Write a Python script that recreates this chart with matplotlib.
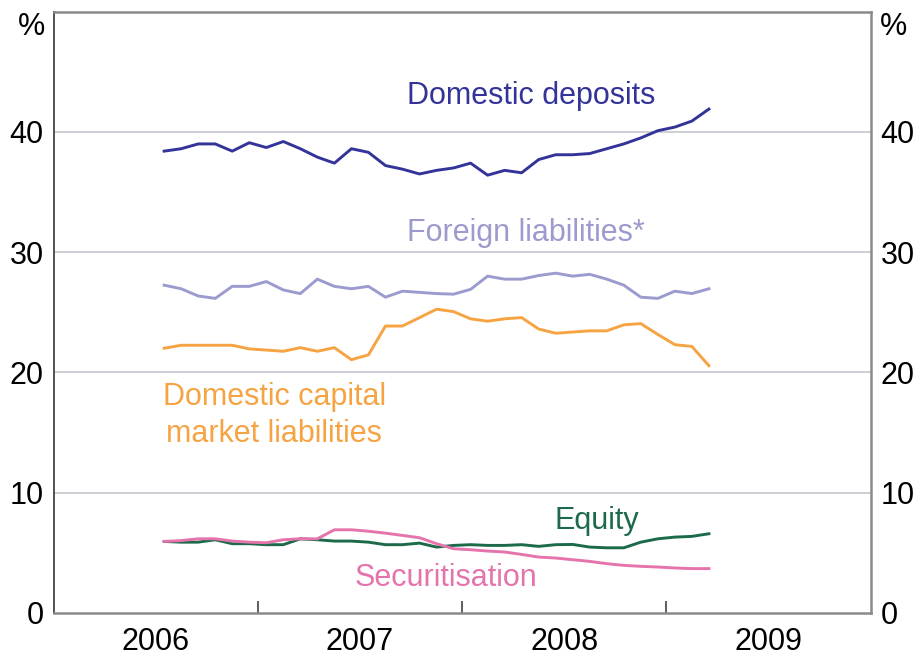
import numpy as np
import pandas as pd
import matplotlib
matplotlib.use('Agg')
import matplotlib.pyplot as plt

plt.rcParams['font.family'] = ['Liberation Sans', 'DejaVu Sans']

# monthly observations, Jul 2006 - Mar 2009
months = pd.period_range('2006-07', '2009-03', freq='M')

domestic_deposits = [38.4, 38.6, 39.0, 39.0, 38.4, 39.1, 38.7, 39.2, 38.6, 37.9, 37.4,
                     38.6, 38.3, 37.2, 36.9, 36.5, 36.8, 37.0, 37.4, 36.4, 36.8, 36.6,
                     37.7, 38.1, 38.1, 38.2, 38.6, 39.0, 39.5, 40.1, 40.4, 40.9, 41.9]
foreign_liabilities = [27.25, 26.95, 26.35, 26.15, 27.15, 27.15, 27.55, 26.85, 26.55, 27.75, 27.15,
                       26.95, 27.15, 26.25, 26.75, 26.65, 26.55, 26.5, 26.9, 28.0, 27.75, 27.75,
                       28.05, 28.25, 28.0, 28.15, 27.75, 27.25, 26.25, 26.15, 26.75, 26.55, 26.95]
capital_market = [22.0, 22.25, 22.25, 22.25, 22.25, 21.95, 21.85, 21.75, 22.05, 21.75, 22.05,
                  21.05, 21.45, 23.85, 23.85, 24.55, 25.25, 25.05, 24.45, 24.25, 24.45, 24.55,
                  23.6, 23.25, 23.35, 23.45, 23.45, 23.95, 24.05, 23.15, 22.3, 22.15, 20.55]
equity = [5.93, 5.87, 5.87, 6.07, 5.74, 5.74, 5.66, 5.66, 6.15, 6.07, 5.96,
          5.96, 5.87, 5.66, 5.66, 5.79, 5.46, 5.6, 5.66, 5.6, 5.6, 5.66,
          5.52, 5.66, 5.68, 5.46, 5.4, 5.4, 5.87, 6.15, 6.29, 6.35, 6.57]
securitisation = [5.93, 6.0, 6.15, 6.15, 5.96, 5.87, 5.82, 6.07, 6.15, 6.15, 6.9,
                  6.9, 6.78, 6.62, 6.43, 6.24, 5.74, 5.32, 5.24, 5.13, 5.05, 4.85,
                  4.63, 4.55, 4.41, 4.27, 4.08, 3.94, 3.86, 3.8, 3.72, 3.67, 3.67]

years = [2006, 2007, 2008, 2009]
yticks = [0, 10, 20, 30, 40]

# decimal year, mid-month
x = np.array([p.year + (p.month - 0.5) / 12 for p in months])

series = [
    (domestic_deposits, '#333399', 'Domestic deposits', 2008.34, 43.0),
    (foreign_liabilities, '#9b9bcf', 'Foreign liabilities*', 2008.31, 31.6),
    (capital_market, '#f6a443', 'Domestic capital\nmarket liabilities', 2007.08, 16.4),
    (equity, '#1c6a4a', 'Equity', 2008.66, 7.6),
    (securitisation, '#e574ad', 'Securitisation', 2007.92, 2.9),
]

fig = plt.figure(figsize=(9.13, 6.57), dpi=100)
ax = fig.add_axes([0.0586, 0.0674, 0.895, 0.9148])

for vals, col, label, lx, ly in series:
    ax.plot(x, vals, color=col, lw=2.1, solid_joinstyle='round')
    ax.text(lx, ly, label, color=col, fontsize=22, ha='center', va='center',
            linespacing=1.3)

ax.set_xlim(2006, 2010)
ax.set_ylim(0, 50)

for v in yticks[1:]:
    ax.axhline(v, color='#c3c7cc', lw=1.2, zorder=0)

ax.set_yticks(yticks)
ax.tick_params(axis='y', length=0, labelsize=22, pad=7, labelright=True)

ax.set_xticks(years[1:])
ax.set_xticklabels([])
ax.set_xticks([y + 0.5 for y in years], minor=True)
ax.set_xticklabels([str(y) for y in years], minor=True)
ax.tick_params(axis='x', which='major', direction='in', length=9, width=1.1, color='#333333')
ax.tick_params(axis='x', which='minor', length=0, labelsize=22, pad=10)

ax.spines['left'].set_color('#444444')
ax.spines['left'].set_linewidth(1.3)
for s in ['top', 'right', 'bottom']:
    ax.spines[s].set_color('#8a8a8a')
    ax.spines[s].set_linewidth(1.8)

ax.annotate('%', xy=(0, 1), xycoords='axes fraction', xytext=(-6, 0),
            textcoords='offset points', ha='right', va='top', fontsize=22)
ax.annotate('%', xy=(1, 1), xycoords='axes fraction', xytext=(7, 0),
            textcoords='offset points', ha='left', va='top', fontsize=22)

fig.savefig('out.png', dpi=100)
